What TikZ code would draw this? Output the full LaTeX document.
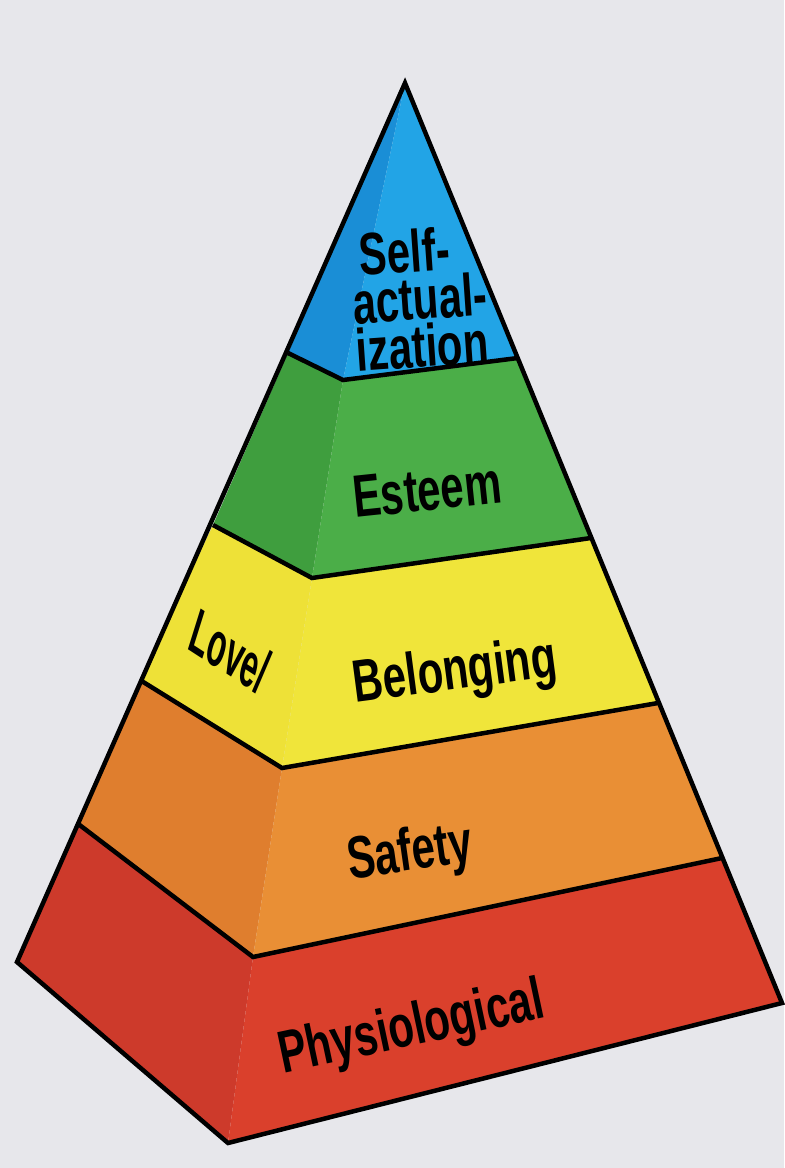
\documentclass[tikz,border=0pt]{standalone}
\usepackage{fontspec}
\setmainfont{Liberation Sans}

\definecolor{paper}{HTML}{E7E7EB}
\definecolor{blueR}{HTML}{22A4E6}
\definecolor{blueL}{HTML}{1A8ED6}
\definecolor{greenR}{HTML}{4BAE48}
\definecolor{greenL}{HTML}{3F9E3E}
\definecolor{yellowR}{HTML}{F0E53A}
\definecolor{yellowL}{HTML}{EEE137}
\definecolor{orangeR}{HTML}{E98F35}
\definecolor{orangeL}{HTML}{DF7E2E}
\definecolor{redR}{HTML}{DA402C}
\definecolor{redL}{HTML}{CD3A2B}

% one band of the pyramid: left colour, right colour,
% top left/mid/right, bottom left/mid/right
\newcommand{\tier}[8]{%
    \fill[#1] (#3) -- (#4) -- (#7) -- (#6) -- cycle;%
    \fill[#2] (#4) -- (#5) -- (#8) -- (#7) -- cycle;%
}

\begin{document}
\begin{tikzpicture}[x=0.1mm, y=-0.1mm, line width=0.45mm,
    tierlabel/.style={font=\fontsize{17}{13.6}\selectfont\bfseries, inner sep=0pt, align=left}]

        % Background
        \fill[paper] (0,0) rectangle (784,1168);
        \useasboundingbox (0,0) rectangle (784,1168);

        % --- Corners of the bands ---
        \coordinate (apex) at (405,83);
        \coordinate (l1) at (288,353);  \coordinate (m1) at (343,380);  \coordinate (r1) at (518,358);
        \coordinate (l2) at (213,525);  \coordinate (m2) at (312,578);  \coordinate (r2) at (591,538);
        \coordinate (l3) at (140,680);  \coordinate (m3) at (282,768);  \coordinate (r3) at (658,703);
        \coordinate (l4) at (77,823);   \coordinate (m4) at (253,957);  \coordinate (r4) at (722,858);
        \coordinate (l5) at (17,962);   \coordinate (m5) at (228,1143); \coordinate (r5) at (782,1003);

        % --- Bands, top to bottom ---
        \tier{blueL}{blueR}{apex}{apex}{apex}{l1}{m1}{r1}
        \tier{greenL}{greenR}{l1}{m1}{r1}{l2}{m2}{r2}
        \tier{yellowL}{yellowR}{l2}{m2}{r2}{l3}{m3}{r3}
        \tier{orangeL}{orangeR}{l3}{m3}{r3}{l4}{m4}{r4}
        \tier{redL}{redR}{l4}{m4}{r4}{l5}{m5}{r5}

        % --- Band borders and outline ---
        \foreach \i in {1,...,4}
            \draw (l\i) -- (m\i) -- (r\i);
        \draw (apex) -- (l5) -- (m5) -- (r5) -- cycle;

        % --- Labels ---
        \node[tierlabel, rotate=4, xscale=0.7] (selfact) at (420,298) {\hspace*{4pt}Self-\\actual-\\ization};
        \node[tierlabel, rotate=6, xscale=0.7] (esteem) at (427,490) {Esteem};
        \node[tierlabel, rotate=-33, xscale=0.56, xslant=-0.5] (love) at (230,651) {Love/};
        \node[tierlabel, rotate=7.5, xscale=0.7] (belong) at (455,674) {Belonging};
        \node[tierlabel, rotate=8, xscale=0.7] (safety) at (410,855) {Safety};
        \node[tierlabel, rotate=12, xscale=0.7] (physio) at (412,1030) {Physiological};

\end{tikzpicture}
\end{document}
